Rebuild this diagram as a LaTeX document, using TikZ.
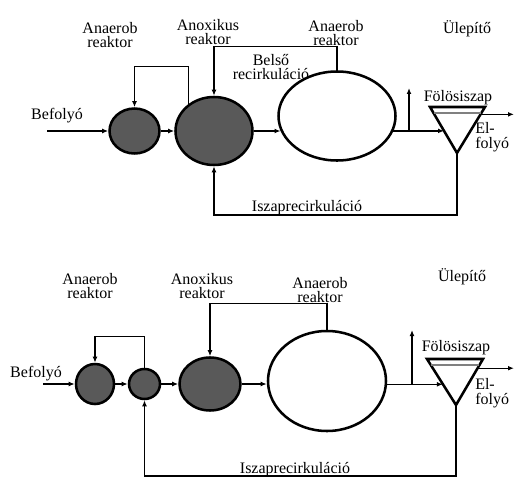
\documentclass[tikz,border=0pt]{standalone}
\usepackage{fontspec}
\setmainfont{Liberation Serif}
\usetikzlibrary{calc,arrows.meta,shapes.geometric}

\begin{document}
\begin{tikzpicture}[x=0.75pt,y=-0.75pt,
  reactor/.style={ellipse,draw,line width=1.9pt,inner sep=0pt},
  full/.style={reactor,fill=black!65},
  flow/.style={line width=0.9pt,-{Latex[length=4.5pt,width=3.6pt]}},
  lbl/.style={font=\fontsize{12}{11}\selectfont,align=center,inner sep=0pt},
  tank/.style={line width=1.9pt,line join=miter}]
\useasboundingbox (0,0) rectangle (514,478);
% upper scheme
\node[full,minimum width=37.5pt,minimum height=33.75pt] (anA1) at (134.5,131) {};
\node[full,minimum width=57.75pt,minimum height=51pt] (anox1) at (214,131) {};
\node[reactor,minimum width=87.75pt,minimum height=66.75pt] (anaer1) at (337,116) {};
\coordinate (st1a) at (430,107); \coordinate (st1b) at (485,107); \coordinate (st1c) at (457,153);
\draw[tank] (st1a) -- (st1b) -- (st1c) -- cycle;
\draw[gray,line width=0.8pt] ($(st1a)!0.13!(st1c)$) -- ($(st1b)!0.13!(st1c)$);
\coordinate (st1in) at ($(st1a)!0.52!(st1c)$); \coordinate (st1out) at ($(st1b)!0.16!(st1c)$);
\coordinate (in1) at (47,131); \coordinate (was1) at (409,88); \coordinate (ef1) at (514,0);
\draw[flow] (in1) -- (anA1.west);
\draw[flow] (anA1.east) -- (anox1.west);
\draw[flow] (anox1.133) -- ++(0,-37) -| (anA1.north);
\draw[flow] (anox1.east) -- (anaer1.195 |- anox1.east);
\draw[flow] (anaer1.north) -- ++(0,-24) -| (anox1.north);
\draw[flow] (anaer1.-15 |- st1in) -- (st1in);
\draw[flow] (was1 |- st1in) -- (was1);
\draw[flow] (st1out) -- (st1out -| ef1);
\draw[flow] (st1c) -- ++(0,62) -| (anox1.south);
\node[lbl] (t1a) at (110,35) {Anaerob\\reaktor};
\node[lbl] (t1b) at (208,32) {Anoxikus\\reaktor};
\node[lbl] (t1c) at (271,67) {Belső\\recirkuláció};
\node[lbl] (t1d) at (336,33) {Anaerob\\reaktor};
\node[lbl] (t1e) at (467,29) {Ülepítő};
\node[lbl] (t1f) at (57,116) {Befolyó};
\node[lbl] (t1g) at (458,98) {Fölösiszap};
\node[lbl,align=left,anchor=west] (t1h) at (475,137) {El-\\folyó};
\node[lbl] (t1i) at (307,208) {Iszaprecirkuláció};
% lower scheme
\node[full,minimum width=28.5pt,minimum height=30pt] (anB1) at (95,384) {};
\node[full,minimum width=23.25pt,minimum height=22.5pt] (anB2) at (144.5,384) {};
\node[full,minimum width=45.75pt,minimum height=39.75pt] (anox2) at (210,384) {};
\node[reactor,minimum width=88.5pt,minimum height=75pt] (anaer2) at (327,381) {};
\coordinate (st2a) at (427,359); \coordinate (st2b) at (483,359); \coordinate (st2c) at (456,405);
\draw[tank] (st2a) -- (st2b) -- (st2c) -- cycle;
\draw[gray,line width=0.8pt] ($(st2a)!0.13!(st2c)$) -- ($(st2b)!0.13!(st2c)$);
\coordinate (st2in) at ($(st2a)!0.55!(st2c)$); \coordinate (st2out) at ($(st2b)!0.2!(st2c)$);
\coordinate (in2) at (43,384); \coordinate (was2) at (412,330); \coordinate (ef2) at (514,0);
\draw[flow] (in2) -- (anB1.west);
\draw[flow] (anB1.east) -- (anB2.west);
\draw[flow] (anB2.north) -- ++(0,-31) -| (anB1.north);
\draw[flow] (anB2.east) -- (anox2.west);
\draw[flow] (anox2.east) -- (anaer2.west |- anox2.east);
\draw[flow] (anaer2.north) -- ++(0,-26) -| (anox2.north);
\draw[flow] (anaer2.-4 |- st2in) -- (st2in);
\draw[flow] (was2 |- st2in) -- (was2);
\draw[flow] (st2out) -- (st2out -| ef2);
\draw[flow] (st2c) -- ++(0,71) -| (anB2.south);
\node[lbl] (t2a) at (90,286) {Anaerob\\reaktor};
\node[lbl] (t2b) at (202,286) {Anoxikus\\reaktor};
\node[lbl] (t2c) at (320,290) {Anaerob\\reaktor};
\node[lbl] (t2d) at (462,277) {Ülepítő};
\node[lbl] (t2e) at (36,374) {Befolyó};
\node[lbl] (t2f) at (456,348) {Fölösiszap};
\node[lbl,align=left,anchor=west] (t2g) at (475,393) {El-\\folyó};
\node[lbl] (t2h) at (295,470) {Iszaprecirkuláció};
\end{tikzpicture}
\end{document}
